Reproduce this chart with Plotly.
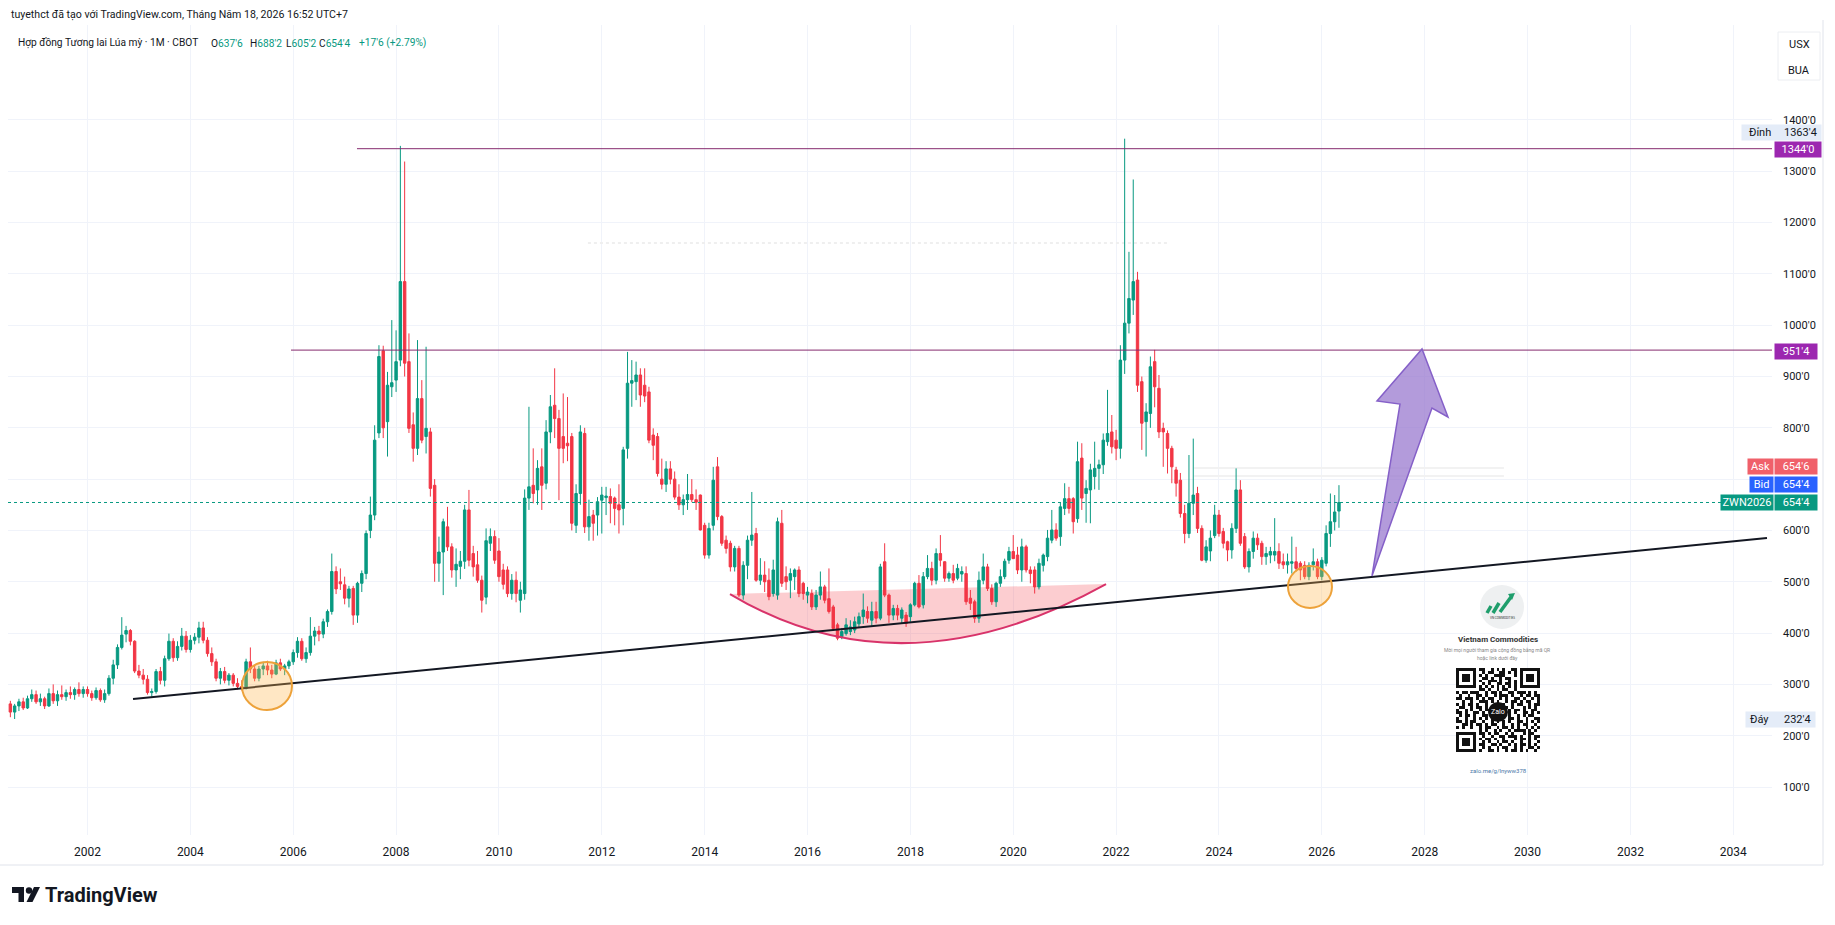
import plotly.graph_objects as go
import pandas as pd

# ---------------- DATA: CBOT wheat, monthly candles (Jul 2000 .. May 2026) ----------------
FIRST_MONTH = "2000-07"
opens = [
    262, 246, 258, 266, 254, 272,
    280, 266, 272, 258, 282, 268, 280, 276, 284, 280, 290, 282,
    290, 282, 274, 288, 270, 282, 312, 338, 372, 398, 405, 384,
    326, 318, 310, 284, 286, 325, 308, 350, 384, 352, 374, 394,
    368, 386, 392, 410, 386, 360, 344, 312, 325, 308, 318, 302,
    296, 292, 344, 330, 312, 330, 336, 328, 320, 342, 330, 336,
    344, 362, 384, 350, 362, 394, 404, 398, 422, 442, 520, 500,
    494, 468, 487, 435, 497, 516, 600, 630, 790, 950, 812, 880,
    893, 932, 1085, 929, 806, 760, 857, 783, 792, 688, 536, 558,
    607, 568, 523, 530, 540, 640, 555, 533, 503, 470, 575, 588,
    560, 523, 523, 477, 503, 464, 477, 663, 688, 679, 724, 692,
    792, 844, 818, 783, 770, 783, 610, 672, 789, 607, 630, 630,
    659, 664, 666, 663, 650, 643, 760, 887, 890, 903, 883, 870,
    786, 783, 700, 690, 720, 700, 665, 650, 660, 670, 660, 669,
    610, 552, 610, 724, 627, 581, 575, 529, 565, 474, 532, 581,
    594, 503, 513, 503, 477, 474, 614, 510, 503, 510, 523, 497,
    474, 477, 451, 474, 490, 467, 451, 416, 393, 399, 403, 406,
    418, 432, 442, 425, 442, 429, 539, 474, 435, 448, 429, 435,
    432, 455, 497, 455, 510, 526, 503, 555, 539, 507, 516, 507,
    515, 516, 468, 461, 429, 503, 529, 487, 461, 497, 510, 542,
    559, 552, 523, 568, 523, 523, 490, 532, 549, 581, 601, 588,
    643, 662, 662, 623, 741, 672, 679, 705, 721, 728, 773, 792,
    776, 760, 932, 1004, 1049, 1088, 890, 812, 828, 929, 877, 799,
    789, 760, 718, 698, 633, 594, 653, 672, 604, 542, 560, 590,
    630, 598, 578, 562, 604, 679, 588, 529, 559, 585, 575, 549,
    552, 552, 559, 539, 533, 536, 539, 536, 532, 510, 533, 539,
    510, 536, 594, 617, 637.75,
]
highs = [
    268, 262, 272, 274, 278, 290,
    288, 282, 276, 292, 300, 288, 298, 290, 296, 294, 304, 296,
    296, 288, 294, 292, 290, 318, 348, 378, 431, 414, 408, 386,
    338, 330, 318, 292, 330, 334, 356, 399, 390, 384, 410, 404,
    396, 400, 422, 422, 392, 372, 350, 332, 334, 322, 322, 312,
    308, 350, 372, 336, 336, 344, 346, 338, 348, 350, 340, 348,
    368, 392, 390, 372, 431, 412, 414, 428, 446, 555, 530, 526,
    510, 492, 492, 500, 522, 600, 666, 805, 961, 960, 909, 1010,
    990, 1349.5, 1319, 984, 830, 971, 893, 958, 800, 700, 588, 623,
    646, 575, 565, 560, 650, 679, 570, 560, 512, 604, 604, 600,
    585, 535, 530, 515, 520, 500, 680, 841, 760, 737, 760, 815,
    864, 916, 835, 867, 860, 790, 690, 805, 800, 660, 640, 665,
    685, 685, 682, 666, 690, 763, 948, 932, 929, 916, 916, 880,
    799, 790, 740, 735, 735, 715, 690, 670, 710, 700, 680, 670,
    615, 615, 724, 743, 630, 590, 580, 570, 570, 540, 590, 675,
    605, 546, 540, 526, 543, 625, 640, 530, 526, 526, 530, 500,
    490, 485, 484, 520, 494, 526, 455, 420, 410, 429, 425, 432,
    440, 477, 452, 461, 461, 535, 575, 477, 455, 455, 450, 441,
    458, 500, 513, 519, 552, 539, 565, 591, 540, 520, 533, 535,
    530, 530, 484, 465, 520, 555, 535, 495, 500, 524, 545, 568,
    591, 568, 584, 572, 530, 530, 545, 555, 601, 640, 614, 655,
    692, 685, 665, 773, 770, 698, 730, 773, 738, 789, 874, 825,
    796, 961, 1363.5, 1143, 1284, 1104, 900, 848, 939, 952, 903, 810,
    795, 765, 724, 712, 650, 747, 779, 685, 610, 581, 600, 650,
    640, 605, 580, 614, 721, 698, 595, 565, 598, 594, 580, 568,
    568, 624, 575, 555, 555, 588, 568, 540, 540, 538, 565, 545,
    548, 610, 672, 669, 688.25,
]
lows = [
    236, 232.5, 248, 250, 252, 266,
    262, 258, 252, 256, 262, 258, 270, 268, 272, 270, 276, 274,
    276, 268, 270, 266, 264, 278, 300, 330, 368, 382, 376, 322,
    312, 300, 280, 276, 282, 300, 296, 346, 344, 346, 366, 362,
    362, 378, 380, 380, 354, 336, 306, 300, 302, 298, 296, 290,
    288, 290, 322, 306, 306, 318, 318, 312, 318, 326, 318, 330,
    338, 352, 346, 342, 356, 376, 384, 390, 412, 436, 476, 484,
    456, 450, 416, 420, 480, 505, 585, 620, 780, 780, 744, 860,
    870, 920, 900, 790, 734, 747, 770, 750, 666, 500, 500, 474,
    560, 508, 490, 505, 525, 530, 510, 498, 440, 456, 560, 535,
    500, 485, 470, 465, 460, 440, 465, 640, 653, 650, 640, 680,
    770, 780, 659, 731, 735, 600, 595, 650, 595, 580, 580, 590,
    594, 630, 614, 610, 594, 610, 740, 841, 854, 841, 850, 770,
    737, 705, 680, 675, 690, 660, 640, 630, 640, 655, 640, 600,
    545, 545, 600, 620, 570, 555, 520, 520, 470, 465, 505, 570,
    500, 494, 480, 464, 471, 465, 490, 484, 468, 484, 470, 465,
    458, 445, 445, 465, 458, 438, 405, 386, 388, 395, 396, 400,
    410, 418, 420, 414, 419, 425, 470, 420, 425, 425, 419, 412,
    422, 452, 448, 448, 505, 493, 495, 530, 500, 500, 497, 503,
    500, 455, 445, 420, 420, 495, 482, 455, 451, 490, 505, 535,
    545, 515, 500, 518, 497, 477, 485, 520, 540, 575, 580, 570,
    630, 633, 594, 615, 640, 615, 614, 680, 679, 710, 765, 750,
    737, 740, 905, 984, 1020, 870, 757, 744, 800, 840, 780, 724,
    711, 692, 666, 625, 575, 585, 630, 595, 540, 537, 540, 585,
    588, 565, 540, 545, 595, 570, 525, 518, 545, 562, 533, 533,
    536, 540, 525, 525, 516, 516, 520, 503, 505, 503, 522, 505,
    503, 530, 568, 600, 605.25,
]
closes = [
    246, 258, 266, 254, 272, 280,
    266, 272, 258, 282, 268, 280, 276, 284, 280, 290, 282, 290,
    282, 274, 288, 270, 282, 312, 338, 372, 396, 405, 384, 326,
    318, 310, 284, 286, 325, 308, 350, 384, 352, 374, 394, 368,
    386, 392, 410, 386, 360, 344, 312, 325, 308, 318, 302, 296,
    292, 344, 330, 312, 330, 336, 328, 320, 342, 330, 336, 344,
    362, 384, 350, 362, 394, 404, 398, 422, 442, 520, 486, 496,
    468, 486, 435, 497, 516, 594, 630, 776, 939, 800, 883, 888,
    929, 1085, 926, 799, 760, 857, 776, 799, 682, 536, 558, 617,
    568, 523, 534, 540, 640, 542, 529, 503, 464, 580, 588, 542,
    510, 495, 477, 503, 477, 484, 663, 685, 672, 721, 688, 792,
    841, 818, 760, 760, 765, 614, 672, 792, 607, 627, 614, 656,
    669, 667, 653, 643, 640, 757, 887, 892, 903, 864, 862, 776,
    766, 711, 690, 720, 700, 665, 650, 660, 670, 660, 655, 601,
    552, 604, 698, 627, 575, 565, 529, 565, 474, 532, 581, 591,
    503, 513, 500, 471, 523, 617, 497, 500, 516, 523, 477, 477,
    480, 451, 474, 490, 464, 442, 409, 390, 403, 416, 412, 422,
    432, 445, 429, 442, 429, 529, 474, 435, 448, 435, 445, 419,
    455, 497, 451, 510, 526, 503, 555, 542, 507, 516, 503, 526,
    520, 461, 458, 429, 503, 529, 487, 461, 497, 510, 540, 559,
    545, 523, 568, 523, 516, 490, 536, 552, 585, 601, 585, 646,
    662, 643, 617, 734, 663, 682, 718, 721, 728, 776, 789, 763,
    760, 932, 1004, 1052, 1085, 883, 809, 831, 919, 880, 792, 792,
    760, 724, 692, 633, 594, 653, 669, 604, 542, 568, 585, 630,
    594, 575, 562, 604, 679, 575, 529, 559, 585, 572, 549, 555,
    559, 559, 536, 533, 539, 539, 526, 523, 510, 532, 539, 510,
    542, 594, 617, 636, 654.5,
]
assert len(opens) == len(highs) == len(lows) == len(closes)

year_ticks = list(range(2002, 2035, 2))
price_ticks = list(range(100, 1500, 100))
hidden_price_ticks = [700]          # covered by the Ask/Bid labels in the original
LAST_PRICE = 654.5
ASK_PRICE = 654.75
TOP_PRICE, BOTTOM_PRICE = 1363.5, 232.5
LEVEL_HIGH, LEVEL_MID = 1344.0, 951.5
CHANGE_TEXT = "+17'6 (+2.79%)"

# drawings (x = decimal year, y = price)
trend = [(2002.885, 271.5), (2034.656, 585.3)]
ray_high_start = 2007.24
ray_mid_start = 2005.957
circle_1 = (2005.49, 296.8)
circle_2 = (2025.77, 489.8)
bowl = [(2014.493, 476.1), (2017.837, 275.4), (2021.804, 495.6)]
arrow = [(2026.975, 511.2), (2027.52, 846.4), (2027.073, 852.3), (2027.948, 953.6),
         (2028.453, 821.1), (2028.142, 838.6)]

# ---------------- LAYOUT GEOMETRY ----------------
W, H = 1835, 925
PL, PR, PT, PB = 8, 1772, 25, 835
PW, PH = PR - PL, PB - PT
PX_PER_YEAR = 51.43
X0 = 2002 - (87.5 - PL) / PX_PER_YEAR
X1 = X0 + PW / PX_PER_YEAR
PX_PER_CENT = 0.5131
Y0 = 100 - (PB - 787) / PX_PER_CENT
Y1 = Y0 + PH / PX_PER_CENT

UP, DN = "#089981", "#f23645"
TXT = "#131722"
GRID = "#f0f3fa"
FONT = "Roboto, 'Noto Sans', sans-serif"

months = pd.period_range(FIRST_MONTH, periods=len(opens), freq="M")
tx = [p.year + (p.month - 1) / 12 for p in months]


def px2paper(px, py):
    return (px - PL) / PW, (PB - py) / PH


def fmt(v):
    whole = int(v)
    eighths = int(round((v - whole) * 8))
    return f"{whole}'{eighths}"


fig = go.Figure()

# ---- QR code (decorative) on an overlay axis ----
qr_rows = [
    "#######.##..#.#.#..##.#######",
    "#.....#..#.##..##.#.#.#.....#",
    "#.###.#.#.#..####...#.#.###.#",
    "#.###.#..##.#..#.##...#.###.#",
    "#.###.#.#..###.#..#.#.#.###.#",
    "#.....#..#.#..##.##.#.#.....#",
    "#######.#.#.#.#.#.#.#.#######",
    "........##.#..#.##..#........",
    "#.##.###..#.##.#..##.###.#.#.",
    ".#..#..##.#..#.###.#..#.##.##",
    "##.###.#.#.##..#.#..##.#..#.#",
    "..#..#..###.#.#..#.##.#.##..#",
    "#.#.##.#..#..##.#..#.##..#.##",
    ".##..#.##.#.#..###.#...#.#.#.",
    "#..#.#..#.##.#.#..#.##.#..##.",
    "##.#..##.#..##..#.#.#..##.#.#",
    ".#.##.#..##.#..##.#..#.#.##..",
    "#..#..#.#.#.##.#..##.#..#..##",
    "##.#.##..#..#.#.#.#..##.#.#.#",
    "..##.#.##.#.##..#..#.#.##..#.",
    "#.#..#..#.##..#.##.#.#..#.#.#",
    "........#.#..#.#..#.####.#.#.",
    "#######.##.#.##..#.#...#.##..",
    "#.....#..#..#..##.###.#..#.##",
    "#.###.#.#.##.#..#...#.##.#.#.",
    "#.###.#..#.#..#.##.#..#..#..#",
    "#.###.#.##..##.#..#.#.##.#.#.",
    "#.....#..#.#..#.##..#.#..##.#",
    "#######.#..##.#..#.##.#.#..#.",
]
qr_z = [[1 if c == "#" else 0 for c in (r + "." * 29)[:29]] for r in qr_rows]

# white card behind QR block
cx0, cy0 = px2paper(1427, 783)
cx1, cy1 = px2paper(1567, 583)
fig.add_shape(type="rect", xref="paper", yref="paper", x0=cx0, y0=cy0, x1=cx1, y1=cy1,
              fillcolor="white", line=dict(width=0), layer="between")

fig.add_trace(go.Candlestick(
    x=tx, open=opens, high=highs, low=lows, close=closes,
    increasing=dict(line=dict(color=UP, width=1), fillcolor=UP),
    decreasing=dict(line=dict(color=DN, width=1), fillcolor=DN),
    whiskerwidth=0, showlegend=False, hoverinfo="skip",
))

qx0, qy0 = px2paper(1456, 752)
qx1, qy1 = px2paper(1540, 668)
fig.add_trace(go.Heatmap(
    z=qr_z, xaxis="x2", yaxis="y2", showscale=False, hoverinfo="skip",
    colorscale=[[0, "rgba(255,255,255,0)"], [1, "#111111"]],
))

# ---- drawings ----
# faint marks
fig.add_shape(type="line", xref="x", yref="y", x0=2011.73, x1=2023.01, y0=1160, y1=1160,
              line=dict(color="#efefef", width=2, dash="dot"), layer="between")
for yy in (721.7, 706.1):
    fig.add_shape(type="line", xref="x", yref="y", x0=2023.52, x1=2029.54, y0=yy, y1=yy,
                  line=dict(color="#f2f2f2", width=2), layer="between")

# bowl fill + arc
(bx0, by0), (bcx, bcy), (bx2, by2) = bowl
fig.add_shape(type="path", xref="x", yref="y",
              path=f"M {bx0},{by0} Q {bcx},{bcy} {bx2},{by2} Z",
              fillcolor="rgba(242,54,69,0.25)", line=dict(width=0), layer="between")
fig.add_shape(type="path", xref="x", yref="y",
              path=f"M {bx0},{by0} Q {bcx},{bcy} {bx2},{by2}",
              fillcolor="rgba(0,0,0,0)", line=dict(color="#d8336a", width=2), layer="above")

# current price dotted line
fig.add_shape(type="line", xref="paper", yref="y", x0=0, x1=1, y0=LAST_PRICE, y1=LAST_PRICE,
              line=dict(color=UP, width=1, dash="dot"), layer="above")

# horizontal rays
fig.add_shape(type="line", xref="x", yref="y", x0=ray_high_start, x1=X1, y0=LEVEL_HIGH, y1=LEVEL_HIGH,
              line=dict(color="#852a6e", width=1), layer="above")
fig.add_shape(type="line", xref="x", yref="y", x0=ray_mid_start, x1=X1, y0=LEVEL_MID, y1=LEVEL_MID,
              line=dict(color="#852a6e", width=1), layer="above")

# trend line
fig.add_shape(type="line", xref="x", yref="y", x0=trend[0][0], y0=trend[0][1], x1=trend[1][0], y1=trend[1][1],
              line=dict(color="#131722", width=2), layer="above")

# highlight circles
for (ctx, cty), rx in ((circle_1, 25), (circle_2, 22)):
    fig.add_shape(type="circle", xref="x", yref="y", xsizemode="pixel", ysizemode="pixel",
                  xanchor=ctx, yanchor=cty, x0=-rx, x1=rx, y0=-rx + 1, y1=rx - 1,
                  fillcolor="rgba(255,183,77,0.33)", line=dict(color="#eda23a", width=2), layer="above")

# purple arrow
arrow_path = "M " + " L ".join(f"{a},{b}" for a, b in arrow) + " Z"
fig.add_shape(type="path", xref="x", yref="y", path=arrow_path,
              fillcolor="rgba(149,117,205,0.72)", line=dict(color="#8560c8", width=1.5), layer="above")


# ---- QR panel decorations ----
def pcircle(cx, cy, r, fill, line_color=None, lw=0, layer="above"):
    x0, y0 = px2paper(cx - r, cy + r)
    x1, y1 = px2paper(cx + r, cy - r)
    fig.add_shape(type="circle", xref="paper", yref="paper", x0=x0, y0=y0, x1=x1, y1=y1,
                  fillcolor=fill, line=dict(color=line_color or fill, width=lw), layer=layer)


def ppoly(points, fill, layer="above"):
    pts = [px2paper(a, b) for a, b in points]
    path = "M " + " L ".join(f"{a},{b}" for a, b in pts) + " Z"
    fig.add_shape(type="path", xref="paper", yref="paper", path=path, fillcolor=fill,
                  line=dict(width=0), layer=layer)


def pline(xa, ya, xb, yb, color, width, layer="above", dash=None):
    a = px2paper(xa, ya)
    b = px2paper(xb, yb)
    fig.add_shape(type="line", xref="paper", yref="paper", x0=a[0], y0=a[1], x1=b[0], y1=b[1],
                  line=dict(color=color, width=width, dash=dash), layer=layer)


pcircle(1502, 607, 22, "#eef0f1")
for (xa, ya, xb, yb) in ((1487, 613, 1491, 606), (1493, 613, 1499, 603), (1500, 612, 1511, 597)):
    pline(xa, ya, xb, yb, "#1f9e6c", 3.5)
ppoly([(1508, 594), (1515, 593), (1512, 600)], "#1f9e6c")
pcircle(1498, 712, 10, "#111111")

# widget borders
pline(1823, 20, 1823, 865, "#e0e3eb", 1)
pline(0, 865, 1823, 865, "#e0e3eb", 1)

# USX / BUA box
bx_a = px2paper(1778, 80)
bx_b = px2paper(1820, 32)
fig.add_shape(type="rect", xref="paper", yref="paper", x0=bx_a[0], y0=bx_a[1], x1=bx_b[0], y1=bx_b[1],
              fillcolor="white", line=dict(color="#eceef2", width=1), layer="above")

# TradingView logo glyph
ppoly([(12, 887), (24, 887), (24, 902), (18.5, 902), (18.5, 893), (12, 893)], TXT)
pcircle(29, 890.5, 3.2, TXT)
ppoly([(26.5, 902), (32.5, 902), (40, 887), (34, 887)], TXT)


# ---- annotations ----
def ann(px, py, text, size=11, color=TXT, anchor="left", bg=None, w=None, h=None, family=FONT, align="center"):
    x, y = px2paper(px, py)
    d = dict(xref="paper", yref="paper", x=x, y=y, text=text, showarrow=False, xanchor=anchor,
             yanchor="middle", font=dict(size=size, color=color, family=family), align=align)
    if bg:
        d.update(bgcolor=bg, borderpad=0)
    if w:
        d["width"] = w
    if h:
        d["height"] = h
    fig.add_annotation(**d)


ann(9, 15, "tuyethct đã tạo với TradingView.com, Tháng Năm 18, 2026 16:52 UTC+7", size=10.6)
LS = 10.2
ann(16, 43, "Hợp đồng Tương lai Lúa mỳ · 1M · CBOT", size=LS)
ann(209, 43, f"O<span style='color:{UP}'>{fmt(opens[-1])}</span>", size=LS)
ann(248, 43, f"H<span style='color:{UP}'>{fmt(highs[-1])}</span>", size=LS)
ann(284, 43, f"L<span style='color:{UP}'>{fmt(lows[-1])}</span>", size=LS)
ann(317, 43, f"C<span style='color:{UP}'>{fmt(closes[-1])}</span>", size=LS)
ann(357, 43, f"<span style='color:{UP}'>{CHANGE_TEXT}</span>", size=LS)

ann(1799, 44, "USX", size=11, anchor="center")
ann(1799, 70, "BUA", size=11, anchor="center")

# price-scale labels
ann(1741, 133, "", bg="#e4ecf8", w=79, h=15)
ann(1747, 133, "Đỉnh", size=11)
ann(1782, 133, fmt(TOP_PRICE), size=11)
ann(1774, 149, fmt(LEVEL_HIGH), size=11, color="white", bg="#9c27b0", w=46, h=15)
ann(1774, 351, fmt(LEVEL_MID), size=11, color="white", bg="#9c27b0", w=42, h=15)
ann(1747, 467, "Ask", size=11, color="white", bg="#f0606a", w=25, h=15)
ann(1774, 467, fmt(ASK_PRICE), size=11, color="white", bg="#f0606a", w=42, h=15)
ann(1749, 484.5, "Bid", size=11, color="white", bg="#2962ff", w=23, h=15)
ann(1774, 484.5, fmt(LAST_PRICE), size=11, color="white", bg="#2962ff", w=42, h=15)
ann(1720, 502, "ZWN2026", size=11, color="white", bg=UP, w=52, h=15)
ann(1774, 502, fmt(LAST_PRICE), size=11, color="white", bg=UP, w=42, h=15)
ann(1745, 719, "", bg="#e4ecf8", w=69, h=15)
ann(1748, 719, "Đáy", size=11)
ann(1782, 719, fmt(BOTTOM_PRICE), size=11)

# QR panel texts
ann(1498, 639, "<b>Vietnam Commodities</b>", size=8, color="#333333", anchor="center")
ann(1497, 650, "Mời mọi người tham gia cộng đồng bằng mã QR", size=5, color="#888888", anchor="center")
ann(1497, 658, "hoặc link dưới đây", size=5, color="#888888", anchor="center")
ann(1498, 712, "Zalo", size=7, color="white", anchor="center")
ann(1498, 770, "zalo.me/g/lnyww378", size=6, color="#4a78a8", anchor="center")
ann(1502, 618, "VN COMMODITIES", size=3, color="#333333", anchor="center")

# TradingView wordmark
ann(43, 895, "<b>TradingView</b>", size=20, family="Roboto, sans-serif")

# ---- axes & layout ----
fig.update_layout(
    width=W, height=H,
    margin=dict(l=PL, r=W - PR, t=PT, b=H - PB),
    paper_bgcolor="white", plot_bgcolor="white",
    font=dict(family=FONT, color=TXT, size=11),
    showlegend=False,
    xaxis=dict(range=[X0, X1], tickvals=year_ticks, ticktext=[str(y) for y in year_ticks],
               showgrid=True, gridcolor=GRID, gridwidth=1, zeroline=False, showline=False,
               ticks="", tickfont=dict(size=12, color=TXT), ticklabelstandoff=8,
               rangeslider=dict(visible=False), fixedrange=True),
    yaxis=dict(range=[Y0, Y1], side="right", tickvals=price_ticks,
               ticktext=["" if v in hidden_price_ticks else f"{v}'0" for v in price_ticks],
               showgrid=True, gridcolor=GRID, gridwidth=1, zeroline=False, showline=False,
               ticks="", tickfont=dict(size=11, color=TXT), ticklabelstandoff=10, fixedrange=True),
    xaxis2=dict(domain=[qx0, qx1], anchor="y2", visible=False, fixedrange=True),
    yaxis2=dict(domain=[qy0, qy1], anchor="x2", visible=False, autorange="reversed", fixedrange=True),
    boxgap=0.25, boxgroupgap=0.25,
)

fig.write_html("out.html")
